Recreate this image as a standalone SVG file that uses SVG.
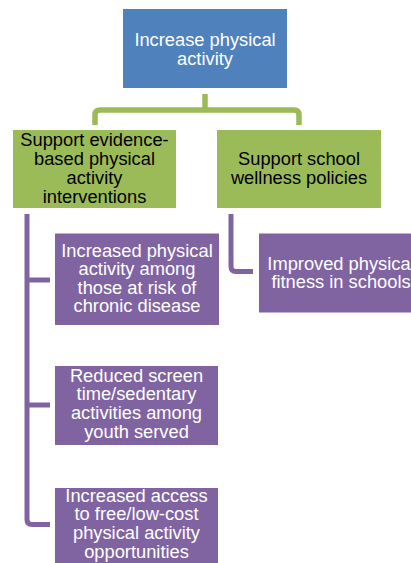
<svg xmlns="http://www.w3.org/2000/svg" width="411" height="563" viewBox="0 0 411 563">
<style>
.t{font-family:"Liberation Sans",Arial,sans-serif;font-size:18.3px;text-anchor:middle}
.w{fill:#ffffff}
.k{fill:#000000}
.blue{fill:#4F81BD}
.green{fill:#9BBB59}
.purple{fill:#8064A2}
.cg{fill:none;stroke:#9BBB59;stroke-width:5.5}
.cp{fill:none;stroke:#8064A2;stroke-width:5}
</style>
<rect width="411" height="563" fill="#ffffff"/>
<g id="connectors">
<path class="cg" d="M205,94 V110"/>
<path class="cg" d="M95,125 V115 Q95,110 100,110 H294 Q299,110 299,115 V125"/>
<path class="cp" d="M27,214 V519.5 Q27,524.5 32,524.5 H50"/>
<path class="cp" d="M27,280 H50"/>
<path class="cp" d="M27,405 H50"/>
<path class="cp" d="M231,214 V266.5 Q231,271.5 236,271.5 H253"/>
</g>
<g id="top">
<rect class="blue" x="123" y="9" width="164" height="79"/>
<text class="t w" x="205" y="45.5">Increase physical</text>
<text class="t w" x="205" y="64.5">activity</text>
</g>
<g id="evidence">
<rect class="green" x="13" y="130" width="163" height="78"/>
<text class="t k" x="94.5" y="146">Support evidence-</text>
<text class="t k" x="94.5" y="165">based physical</text>
<text class="t k" x="94.5" y="184.3">activity</text>
<text class="t k" x="94.5" y="203.3">interventions</text>
</g>
<g id="wellness">
<rect class="green" x="217" y="130" width="164" height="78"/>
<text class="t k" x="299" y="165">Support school</text>
<text class="t k" x="299" y="184">wellness policies</text>
</g>
<g id="chronic">
<rect class="purple" x="55" y="233.5" width="164" height="91.5"/>
<text class="t w" x="137" y="256.7">Increased physical</text>
<text class="t w" x="137" y="275">activity among</text>
<text class="t w" x="137" y="293.5">those at risk of</text>
<text class="t w" x="137" y="312">chronic disease</text>
</g>
<g id="screen">
<rect class="purple" x="55" y="366" width="163" height="79"/>
<text class="t w" x="136.5" y="381.7">Reduced screen</text>
<text class="t w" x="136.5" y="400.3">time/sedentary</text>
<text class="t w" x="136.5" y="419.3">activities among</text>
<text class="t w" x="136.5" y="438.3">youth served</text>
</g>
<g id="access">
<rect class="purple" x="55" y="488" width="163" height="75"/>
<text class="t w" x="136.5" y="501.7">Increased access</text>
<text class="t w" x="136.5" y="520.3">to free/low-cost</text>
<text class="t w" x="136.5" y="539">physical activity</text>
<text class="t w" x="136.5" y="557.5">opportunities</text>
</g>
<g id="fitness">
<rect class="purple" x="259" y="233.5" width="164" height="79"/>
<text class="t w" x="341" y="269.5">Improved physical</text>
<text class="t w" x="341" y="288">fitness in schools</text>
</g>
</svg>
